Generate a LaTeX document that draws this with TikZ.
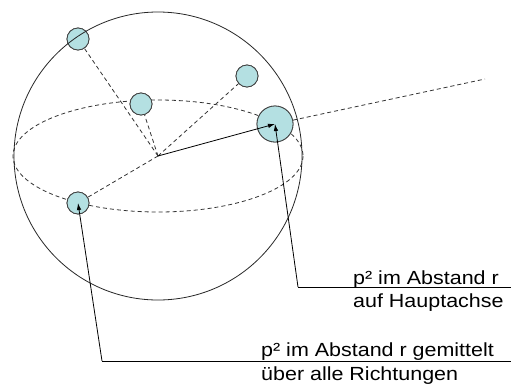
\documentclass[tikz,border=0pt]{standalone}
\usepackage{fontspec}
\setmainfont{Liberation Sans}
\newfontfamily\lblfont[FakeStretch=1.13]{Liberation Sans}
\usepackage{tikz}
\usetikzlibrary{arrows.meta,positioning}

\definecolor{atomfill}{HTML}{B4E0E2}

\begin{document}
\begin{tikzpicture}[
    x=1pt, y=-1pt,
    atom/.style={circle, draw=black!75, line width=0.8pt, fill=atomfill, inner sep=0pt, minimum size=22pt},
    bigatom/.style={atom, minimum size=36pt},
    guide/.style={dash pattern=on 4pt off 3pt, black!80, line width=0.8pt},
    pointer/.style={line width=0.8pt, -{Latex[length=7pt,width=4.5pt]}},
    lbl/.style={anchor=base west, inner sep=0pt, font=\lblfont\fontsize{19}{22}\selectfont}
]
\useasboundingbox (0,0) rectangle (511,386);

% centre and equator
\coordinate (o) at (158,156);
\draw[guide] (o) ellipse (145 and 56);

% atoms
\node[atom] (a1) at (78,39) {};
\node[atom] (a2) at (247,76) {};
\node[atom] (a3) at (141,104) {};
\node[atom] (a5) at (78,203) {};
\node[bigatom] (ha) at (275,124) {};
\coordinate (fern) at (485,79);

% dashed rays
\draw[guide] (o) -- (a1);
\draw[guide] (o) -- (a2);
\draw[guide] (o) -- (a3);
\draw[guide] (o) -- (a5);
\draw[guide] (ha) -- (fern);

% redraw atoms on top of the rays
\node[atom] at (a1) {};
\node[atom] at (a2) {};
\node[atom] at (a3) {};
\node[atom] at (a5) {};
\node[bigatom] at (ha) {};

% sphere
\node[circle, draw=black!85, line width=0.8pt, minimum size=288pt] (kugel) at (o) {};

% main axis
\draw[pointer] (o) -- (ha.center);

% labels
\coordinate (k1) at (298,287);
\coordinate (e1) at (511,287);
\coordinate (k2) at (102,361);
\coordinate (e2) at (511,361);
\draw[pointer] (k1) -- (ha.center);
\draw[line width=0.8pt] (k1) -- (e1);
\draw[pointer] (k2) -- (a5.center);
\draw[line width=0.8pt] (k2) -- (e2);

\node[lbl] (t1) at (353,284) {p² im Abstand r};
\node[lbl] (t2) at (353,307) {auf Hauptachse};
\node[lbl] (t3) at (261,356) {p² im Abstand r gemittelt};
\node[lbl] (t4) at (261,380) {über alle Richtungen};

\end{tikzpicture}
\end{document}
